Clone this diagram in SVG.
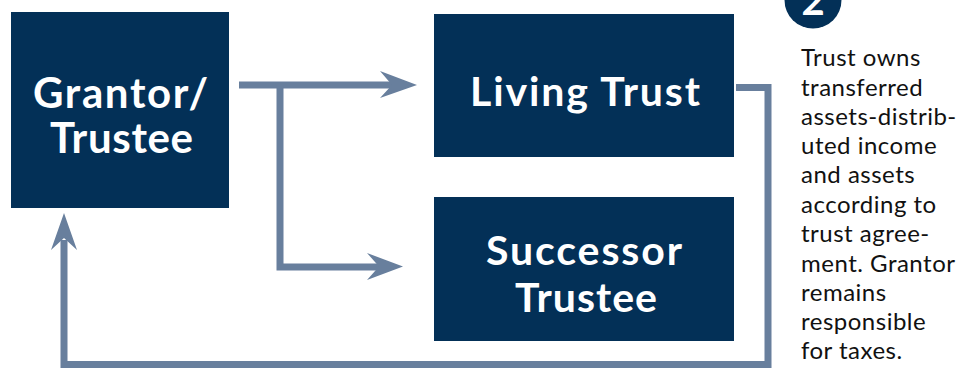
<svg xmlns="http://www.w3.org/2000/svg" width="970" height="368" viewBox="0 0 970 368">
  <defs>
    <style>
      .box { fill: #033057; }
      .label { font-family: Lato, "Open Sans", sans-serif; font-weight: 700; fill: #ffffff; text-anchor: middle; }
      .wire { fill: none; stroke: #687f9d; stroke-width: 7; }
      .head { fill: #687f9d; }
      .note { font-family: Lato, "Open Sans", sans-serif; font-size: 24px; letter-spacing: 0.5px; fill: #111111; }
    </style>
  </defs>
  <rect width="970" height="368" fill="#ffffff"/>

  <!-- connectors -->
  <g id="connectors">
    <!-- grantor to living trust -->
    <path class="wire" d="M239 85 H395"/>
    <path class="head" d="M380 71 L417 85 L380 98 L392 85 Z"/>
    <!-- branch to successor trustee -->
    <path class="wire" d="M280 85 V267 H382"/>
    <path class="head" d="M367 253 L403 266.5 L367 280 L379 266.5 Z"/>
    <!-- living trust back to grantor -->
    <path class="wire" d="M736 87.5 H768 V364.5 H64 V240"/>
    <path class="head" d="M51 250 L64 213 L77 250 L64 238 Z"/>
  </g>

  <g id="grantor">
    <rect class="box" x="11" y="12" width="218" height="196"/>
    <text class="label" x="120.5" y="108" font-size="42" textLength="175" lengthAdjust="spacing">Grantor/</text>
    <text class="label" x="121.5" y="153" font-size="42" textLength="143" lengthAdjust="spacing">Trustee</text>
  </g>

  <g id="living-trust">
    <rect class="box" x="434" y="14" width="300" height="143"/>
    <text class="label" x="585" y="106" font-size="41" textLength="230" lengthAdjust="spacing">Living Trust</text>
  </g>

  <g id="successor-trustee">
    <rect class="box" x="434" y="197" width="300" height="144"/>
    <text class="label" x="584" y="265" font-size="41" textLength="196" lengthAdjust="spacing">Successor</text>
    <text class="label" x="586" y="312" font-size="41" textLength="142" lengthAdjust="spacing">Trustee</text>
  </g>

  <g id="step-badge">
    <circle cx="813" cy="0" r="28.5" fill="#033057"/>
    <text class="label" x="813" y="15" font-size="40">2</text>
  </g>

  <g id="note">
    <text class="note" x="801" y="66">Trust owns</text>
    <text class="note" x="801" y="95.5">transferred</text>
    <text class="note" x="801" y="125">assets-distrib-</text>
    <text class="note" x="801" y="154">uted income</text>
    <text class="note" x="801" y="183">and assets</text>
    <text class="note" x="801" y="212.5">according to</text>
    <text class="note" x="801" y="242">trust agree-</text>
    <text class="note" x="801" y="271.5">ment. Grantor</text>
    <text class="note" x="801" y="301">remains</text>
    <text class="note" x="801" y="330">responsible</text>
    <text class="note" x="801" y="359">for taxes.</text>
  </g>
</svg>
